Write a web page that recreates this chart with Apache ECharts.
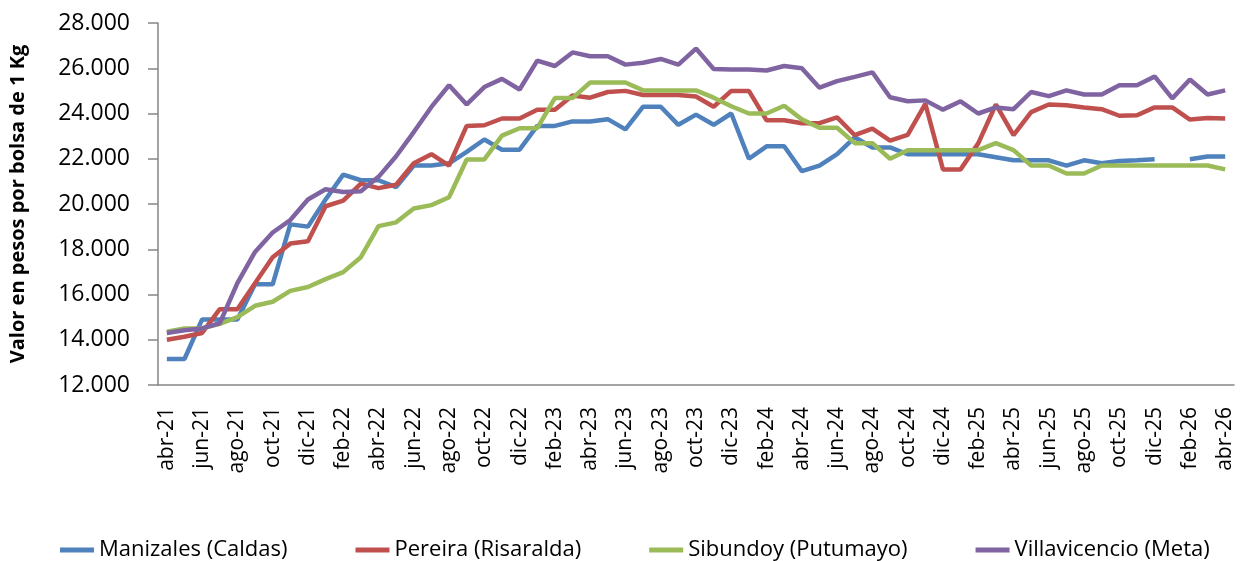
<!DOCTYPE html>
<html>
<head>
    <meta charset="UTF-8">
    <title>Valor en pesos por bolsa de 1 Kg</title>
    <script src="https://cdn.jsdelivr.net/npm/echarts@6/dist/echarts.min.js"></script>
    <style>
        html, body { margin: 0; padding: 0; background: #fff; }
        #main { width: 1240px; height: 561px; }
    </style>
</head>
<body>
    <div id="main"></div>
    <script type="text/javascript">
        // meses abr-21 .. abr-26
        const months = ['ene', 'feb', 'mar', 'abr', 'may', 'jun', 'jul', 'ago', 'sep', 'oct', 'nov', 'dic'];
        const categories = [];
        for (let i = 0; i < 61; i++) {
            const m = (3 + i) % 12;
            const y = 21 + Math.floor((3 + i) / 12);
            categories.push(months[m] + '-' + y);
        }

        const seriesNames = ['Manizales (Caldas)', 'Pereira (Risaralda)', 'Sibundoy (Putumayo)', 'Villavicencio (Meta)'];

        const manizales = [13150, 13150, 14900, 14900, 14900, 16450, 16450, 19100, 19000, 20200,
            21300, 21050, 21050, 20750, 21700, 21700, 21800, 22300, 22850, 22400,
            22400, 23450, 23450, 23650, 23650, 23750, 23300, 24300, 24300, 23500,
            23950, 23500, 24000, 22000, 22550, 22550, 21450, 21700, 22200, 22950,
            22500, 22500, 22200, 22200, 22200, 22200, 22200, 22070, 21930, 21930,
            21930, 21700, 21930, 21800, 21900, 21930, 21980, null, 21980, 22100,
            22100];

        const pereira = [14000, 14130, 14300, 15350, 15350, 16500, 17650, 18250, 18350, 19900,
            20150, 20900, 20700, 20850, 21800, 22200, 21700, 23450, 23480, 23780,
            23780, 24170, 24170, 24800, 24700, 24950, 25000, 24820, 24820, 24820,
            24750, 24300, 25000, 25000, 23700, 23700, 23570, 23570, 23830, 23040,
            23330, 22800, 23060, 24430, 21530, 21530, 22680, 24400, 23040, 24060,
            24400, 24360, 24270, 24190, 23900, 23920, 24270, 24270, 23730, 23800,
            23780];

        const sibundoy = [14350, 14500, 14500, 14700, 15000, 15500, 15680, 16160, 16330, 16680,
            16990, 17650, 19020, 19190, 19800, 19950, 20300, 21970, 21970, 23020,
            23350, 23350, 24680, 24680, 25370, 25370, 25370, 25020, 25020, 25020,
            25020, 24700, 24320, 24000, 24000, 24340, 23740, 23370, 23370, 22690,
            22690, 22000, 22380, 22380, 22380, 22380, 22380, 22690, 22380, 21700,
            21700, 21350, 21350, 21700, 21700, 21700, 21700, 21700, 21700, 21700,
            21530];

        const villavicencio = [14300, 14420, 14500, 14730, 16500, 17880, 18740, 19290, 20200, 20650,
            20530, 20560, 21200, 22110, 23180, 24290, 25250, 24400, 25170, 25530,
            25060, 26340, 26100, 26700, 26530, 26530, 26160, 26240, 26410, 26160,
            26870, 25970, 25940, 25940, 25900, 26100, 26000, 25140, 25430, 25620,
            25820, 24720, 24540, 24580, 24170, 24540, 24000, 24270, 24190, 24950,
            24770, 25020, 24840, 24840, 25250, 25250, 25640, 24670, 25500, 24840,
            25020];

        const colors = ['#4F81BD', '#C0504D', '#9BBB59', '#8064A2'];
        const values = [manizales, pereira, sibundoy, villavicencio];

        const font = '"Open Sans", "Noto Sans", sans-serif';

        function fmt(v) {
            return String(v).replace(/\B(?=(\d{3})+(?!\d))/g, '.');
        }

        let chart = echarts.init(document.getElementById('main'), null, { renderer: 'canvas' });

        let option = {
            animation: false,
            color: colors,
            grid: {
                left: 150,
                right: 6,
                top: 23,
                bottom: 176,
                containLabel: false
            },
            legend: {
                top: 534,
                left: 55,
                icon: 'rect',
                itemWidth: 34,
                itemHeight: 5,
                itemGap: 68,
                textStyle: {
                    fontFamily: font,
                    fontSize: 22,
                    color: '#000'
                },
                data: seriesNames
            },
            xAxis: {
                type: 'category',
                boundaryGap: true,
                data: categories,
                axisLine: { lineStyle: { color: '#868686', width: 1.5 } },
                axisTick: { show: false },
                axisLabel: {
                    interval: 1,
                    rotate: 90,
                    margin: 22,
                    fontFamily: font,
                    fontSize: 21,
                    color: '#000'
                }
            },
            yAxis: {
                type: 'value',
                min: 12000,
                max: 28000,
                interval: 2000,
                name: 'Valor en pesos por bolsa de 1 Kg',
                nameLocation: 'middle',
                nameGap: 130,
                nameTextStyle: {
                    fontFamily: font,
                    fontSize: 20,
                    fontWeight: 'bold',
                    color: '#000'
                },
                splitLine: { show: false },
                axisLine: { show: true, lineStyle: { color: '#868686', width: 1.5 } },
                axisTick: { show: true, length: 10, lineStyle: { color: '#868686', width: 1.5 } },
                axisLabel: {
                    margin: 28,
                    fontFamily: font,
                    fontSize: 23,
                    color: '#000',
                    formatter: fmt
                }
            },
            series: seriesNames.map((name, i) => ({
                name: name,
                type: 'line',
                data: values[i],
                showSymbol: false,
                symbol: 'none',
                connectNulls: false,
                lineStyle: { width: 4.5, color: colors[i] },
                itemStyle: { color: colors[i] }
            }))
        };

        chart.setOption(option);
    </script>
</body>
</html>
